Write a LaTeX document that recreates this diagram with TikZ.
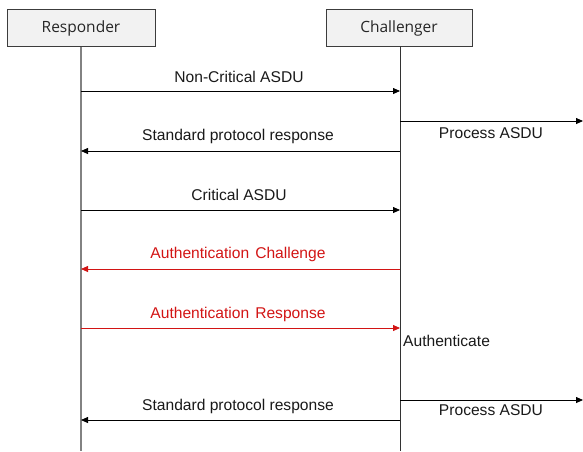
\documentclass[tikz,border=0pt]{standalone}
\usepackage{fontspec}
\setmainfont{Liberation Sans}
\newfontfamily\boxfont{Open Sans}
\usetikzlibrary{arrows.meta}
\definecolor{boxfill}{RGB}{242,242,242}
\definecolor{boxline}{RGB}{60,60,60}
\definecolor{msgred}{RGB}{210,20,20}
\definecolor{lifegray}{RGB}{130,130,130}
\tikzset{
  actor/.style={draw=boxline, fill=boxfill, line width=0.8pt, minimum width=148pt,
                minimum height=37pt, inner sep=0pt, font=\boxfont\fontsize{15.5}{18}\selectfont, text=black!85},
  msg/.style={line width=0.8pt, -{Triangle[length=7pt,width=6pt]}},
  redmsg/.style={msg, draw=msgred},
  lbl/.style={font=\fontsize{15.6}{18}\selectfont, inner sep=0pt, text=black!90},
  redlbl/.style={lbl, text=msgred},
}
\begin{document}
\begin{tikzpicture}[x=1pt,y=-1pt]
\useasboundingbox (0,0) rectangle (583,451);
% participants
\node[actor] (resp) at (81,28) {Responder};
\node[actor, minimum width=146pt] (chal) at (399,28) {Challenger};
% lifelines
\coordinate (respEnd) at (81,451);
\coordinate (chalEnd) at (400,451);
\draw[lifegray, line width=1.4pt] (resp.south) -- (respEnd);
\draw[black!80, line width=0.9pt] (400,46) -- (chalEnd);
% message end points
\foreach \n/\y in {1/91, 2/151, 3/210, 4/269, 5/328, 6/420} {
  \coordinate (r\n) at (81,\y);
  \coordinate (c\n) at (400,\y);
}
\coordinate (p1) at (400,121);
\coordinate (q1) at (583,121);
\coordinate (p2) at (400,400);
\coordinate (q2) at (583,400);
% messages
\draw[msg] (r1) -- (c1);
\node[lbl] (m1) at (239,77) {Non-Critical ASDU};
\draw[msg] (p1) -- (q1);
\node[lbl] (m2) at (491,133) {Process ASDU};
\draw[msg] (c2) -- (r2);
\node[lbl] (m3) at (238,136) {Standard protocol response};
\draw[msg] (r3) -- (c3);
\node[lbl] (m4) at (239,195) {Critical ASDU};
\draw[redmsg] (c4) -- (r4);
\node[redlbl] (m5) at (238,254) {Authentication\hspace{6pt}Challenge};
\draw[redmsg] (r5) -- (c5);
\node[redlbl] (m6) at (238,314) {Authentication\hspace{6pt}Response};
\node[lbl, anchor=west] (m7) at (403,341) {Authenticate};
\draw[msg] (p2) -- (q2);
\node[lbl] (m8) at (491,410) {Process ASDU};
\draw[msg] (c6) -- (r6);
\node[lbl] (m9) at (238,406) {Standard protocol response};
\end{tikzpicture}
\end{document}
